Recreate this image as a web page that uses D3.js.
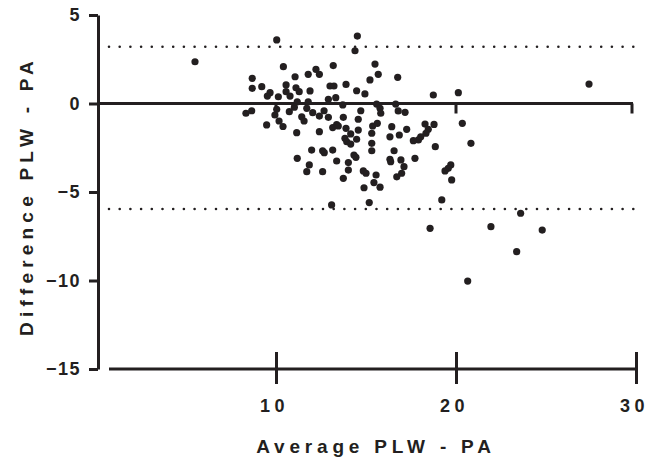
<!DOCTYPE html>
<html lang="en">
<head>
  <meta charset="UTF-8">
  <title>Bland-Altman PLW - PA</title>
  <script src="https://d3js.org/d3.v7.min.js"></script>
  <style>
    html, body {
      margin: 0;
      background: #fff;
    }
    svg {
      display: block;
    }
    text {
      font-family: Arial, "Liberation Sans", sans-serif;
      font-weight: bold;
      fill: #231f20;
    }
  </style>
</head>
<body>
  <svg width="649" height="462"></svg>
  <script>
    // Average PLW - PA (x) and Difference PLW - PA (y)
    const avg = [
      5.5, 10.04, 10.41, 12.22, 12.41, 11.79, 13.18, 8.68, 8.68, 9.21,
      11.06, 10.56, 11.11, 9.67, 9.52, 10.56, 10.78, 10.13, 11.29, 11.89,
      13.0, 13.22, 12.91, 13.32, 11.18, 11.79, 10.04, 8.65, 8.33, 11.02,
      11.71, 12.04, 12.41, 12.67, 12.91, 9.94, 10.17, 9.48, 10.39, 11.43,
      11.56, 13.15, 13.37, 10.74, 11.15, 12.41, 11.98, 12.59, 12.68, 13.15,
      11.18, 11.85, 11.71, 12.59, 13.37, 13.09, 14.52, 14.39, 15.5, 15.68,
      15.22, 16.76, 13.89, 14.48, 14.94, 18.74, 20.13, 13.71, 15.59, 15.78,
      15.82, 16.65, 14.71, 16.79, 17.17, 13.74, 14.57, 13.46, 13.89, 15.37,
      15.63, 16.43, 18.28, 18.78, 20.35, 17.26, 14.15, 14.57, 14.48, 13.83,
      13.93, 14.15, 15.32, 16.33, 16.85, 18.46, 18.33, 18.04, 17.91, 17.63,
      20.83, 18.85, 15.32, 15.32, 16.56, 14.02, 14.02, 14.33, 14.44, 16.33,
      16.37, 16.94, 17.11, 16.98, 16.71, 17.72, 14.85, 15.0, 15.56, 13.74,
      15.44, 15.78, 14.89, 19.71, 19.57, 19.39, 19.76, 15.18, 19.21, 18.56,
      21.94, 23.59, 24.79, 23.37, 20.65, 27.39
    ];
    const diff = [
      2.36, 3.59, 2.08, 1.93, 1.65, 1.65, 2.14, 1.42, 0.86, 0.95,
      1.51, 1.05, 0.89, 0.61, 0.42, 0.67, 0.42, 0.38, 0.67, 0.71,
      0.99, 0.99, 0.24, 0.33, 0.10, 0.10, -0.33, -0.41, -0.55, -0.21,
      -0.27, -0.52, -0.71, -0.41, -0.78, -0.65, -0.99, -1.21, -1.30, -0.75,
      -0.99, -1.36, -1.19, -0.46, -1.65, -1.59, -2.63, -2.67, -2.78, -2.63,
      -3.10, -3.47, -3.85, -3.85, -3.25, -5.73, 3.81, 2.98, 2.23, 1.65,
      1.33, 1.48, 1.08, 0.72, 0.54, 0.48, 0.61, -0.08, -0.03, -0.27,
      -0.55, -0.03, -0.41, -0.42, -0.50, -0.78, -0.89, -1.27, -1.40, -1.27,
      -1.12, -1.31, -1.16, -1.18, -1.12, -1.46, -1.72, -1.50, -2.02, -1.97,
      -2.16, -2.29, -1.68, -1.88, -1.78, -1.46, -1.68, -1.88, -2.06, -2.10,
      -2.25, -2.44, -2.25, -2.67, -2.67, -3.34, -3.76, -2.91, -3.04, -3.15,
      -3.29, -3.19, -3.57, -3.94, -4.14, -3.10, -3.81, -3.94, -4.04, -4.23,
      -4.47, -4.73, -4.76, -3.47, -3.66, -3.81, -4.32, -5.60, -5.45, -7.05,
      -6.96, -6.20, -7.15, -8.37, -10.03, 1.10
    ];
    const limits = [3.21, -5.96];      // limits of agreement
    const yTicks = [5, 0, -5, -10, -15];
    const xTicks = [10, 20, 30];

    const ink = "#231f20";
    const svg = d3.select("svg");

    const x = d3.scaleLinear().domain([0, 30]).range([96, 636]);
    const y = d3.scaleLinear().domain([-15, 5]).range([369, 15]);

    // limits of agreement (dotted)
    svg.append("g")
      .selectAll("line")
      .data(limits)
      .enter().append("line")
      .attr("x1", 109)
      .attr("x2", x(30))
      .attr("y1", d => y(d))
      .attr("y2", d => y(d))
      .attr("stroke", ink)
      .attr("stroke-width", 2.6)
      .attr("stroke-linecap", "round")
      .attr("stroke-dasharray", "0 10.7");

    // zero line with ticks pointing down
    const zero = svg.append("g").attr("transform", `translate(0,${y(0)})`);
    zero.append("line")
      .attr("x1", 98).attr("x2", x(30) - 3)
      .attr("stroke", ink).attr("stroke-width", 3);
    zero.selectAll("line.tk")
      .data(xTicks)
      .enter().append("line")
      .attr("class", "tk")
      .attr("x1", d => d === 30 ? x(d) - 4 : x(d))
      .attr("x2", d => d === 30 ? x(d) - 4 : x(d))
      .attr("y1", 0).attr("y2", 10)
      .attr("stroke", ink).attr("stroke-width", 3);

    // points
    svg.append("g")
      .selectAll("circle")
      .data(avg.map((a, i) => [a, diff[i]]))
      .enter().append("circle")
      .attr("cx", d => x(d[0]))
      .attr("cy", d => y(d[1]))
      .attr("r", 3.6)
      .attr("fill", ink);

    // y axis
    const yAxis = svg.append("g")
      .attr("transform", "translate(98,0)")
      .call(d3.axisLeft(y).tickValues(yTicks).tickSize(9).tickSizeOuter(0).tickPadding(8));
    yAxis.select(".domain").attr("stroke", ink).attr("stroke-width", 3);
    yAxis.selectAll(".tick line").attr("stroke", ink).attr("stroke-width", 3);
    yAxis.selectAll(".tick text")
      .attr("fill", ink)
      .style("font-size", "18px")
      .style("letter-spacing", "1.5px")
      .attr("font-family", null);

    // bottom x axis
    const xAxis = svg.append("g")
      .attr("transform", "translate(0,369)")
      .call(d3.axisBottom(x).tickValues(xTicks).tickSize(0).tickPadding(30));
    xAxis.select(".domain").remove();
    xAxis.append("line")
      .attr("x1", 109).attr("x2", x(30))
      .attr("stroke", ink).attr("stroke-width", 3);
    xAxis.selectAll(".tick line")
      .attr("y1", -17).attr("y2", 15)
      .attr("stroke", ink).attr("stroke-width", 3);
    xAxis.selectAll(".tick text")
      .attr("fill", ink)
      .attr("dx", -2)
      .style("font-size", "18px")
      .style("letter-spacing", "4.5px")
      .attr("font-family", null);

    // axis titles
    svg.append("text")
      .attr("x", 376)
      .attr("y", 453)
      .attr("text-anchor", "middle")
      .style("font-size", "19px")
      .style("letter-spacing", "4.8px")
      .text("Average PLW - PA");

    svg.append("text")
      .attr("transform", "translate(33,196) rotate(-90)")
      .attr("text-anchor", "middle")
      .style("font-size", "19px")
      .style("letter-spacing", "5.2px")
      .text("Difference PLW - PA");
  </script>
</body>
</html>
